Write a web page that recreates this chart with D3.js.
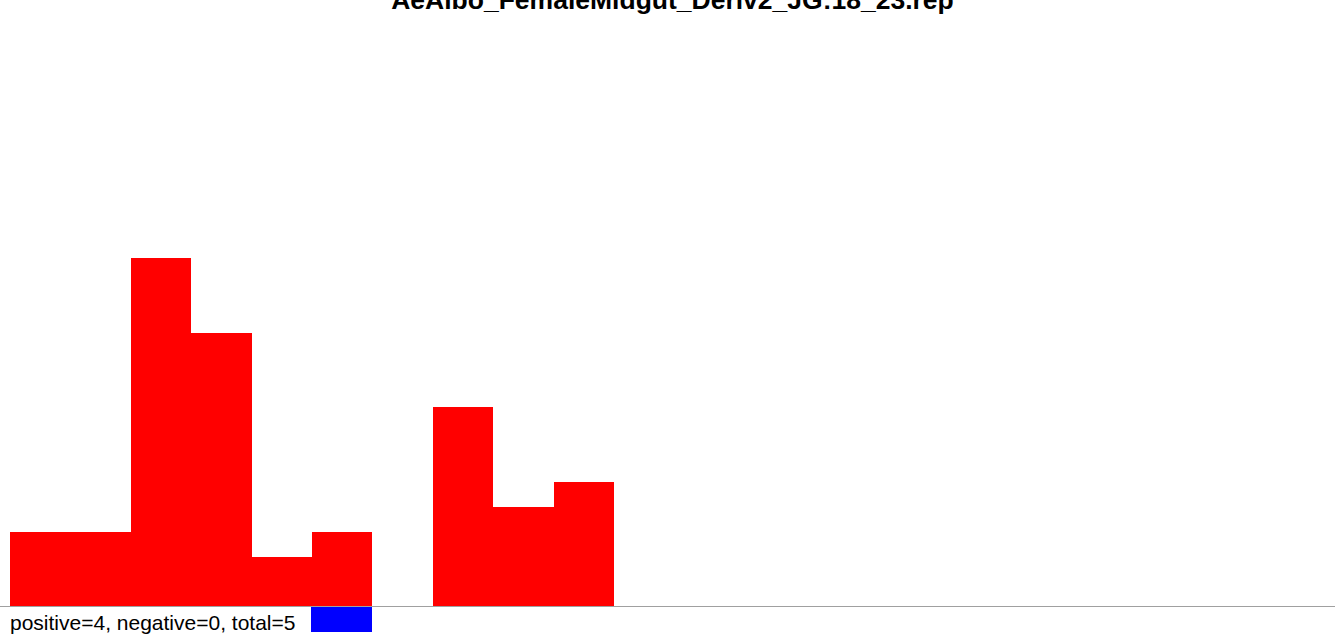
<!DOCTYPE html>
<html>
<head>
<meta charset="utf-8">
<script src="https://cdn.jsdelivr.net/npm/d3@7"></script>
<style>
  html, body { margin: 0; padding: 0; background: #fff; overflow: hidden; }
  svg { display: block; }
</style>
</head>
<body>
<svg id="chart" width="1335" height="636"></svg>
<script>
const title = "AeAlbo_FemaleMidgut_Deriv2_JG:18_23.rep";
const bins = d3.range(22);
const positiveValues = [3, 3, 14, 11, 2, 3, 0, 8, 4, 5, 0, 0, 0, 0, 0, 0, 0, 0, 0, 0, 0, 0];
const negativeValues = [0, 0, 0, 0, 0, 1, 0, 0, 0, 0, 0, 0, 0, 0, 0, 0, 0, 0, 0, 0, 0, 0];
const summary = "positive=4, negative=0, total=5";

const svg = d3.select("#chart");
const W = 1335;

const x = d3.scaleBand().domain(bins).range([10, 10 + 22 * 60.4]).padding(0);
const y = d3.scaleLinear().domain([-1, 0, 14]).range([631.5, 606.5, 258]);

svg.append("g").attr("shape-rendering", "crispEdges").selectAll("rect.pos")
  .data(bins.filter(i => positiveValues[i] > 0))
  .join("rect")
  .attr("x", i => Math.round(x(i)))
  .attr("width", i => Math.round(x(i) + x.bandwidth()) - Math.round(x(i)))
  .attr("y", i => Math.round(y(positiveValues[i])))
  .attr("height", i => Math.round(y(0)) - Math.round(y(positiveValues[i])))
  .attr("fill", "#ff0000");

svg.append("line")
  .attr("x1", 0).attr("x2", W)
  .attr("y1", y(0)).attr("y2", y(0))
  .attr("stroke", "#a0a0a0").attr("stroke-width", 1.2);

svg.append("g").attr("shape-rendering", "crispEdges").selectAll("rect.neg")
  .data(bins.filter(i => negativeValues[i] > 0))
  .join("rect")
  .attr("x", i => Math.round(x(i)) - 1)
  .attr("width", i => Math.round(x(i) + x.bandwidth()) - Math.round(x(i)) + 1)
  .attr("y", Math.round(y(0)))
  .attr("height", i => Math.round(y(-negativeValues[i])) - Math.round(y(0)))
  .attr("fill", "#0000ff");

svg.append("text")
  .attr("x", W / 2 + 5).attr("y", 9)
  .attr("text-anchor", "middle")
  .attr("font-family", "Liberation Sans, Arial, sans-serif")
  .attr("font-weight", "bold")
  .attr("font-size", 26.5)
  .attr("fill", "#000")
  .text(title);

svg.append("text")
  .attr("x", 10).attr("y", 630)
  .attr("font-family", "Liberation Sans, Arial, sans-serif")
  .attr("font-size", 21)
  .attr("fill", "#000")
  .text(summary);
</script>
</body>
</html>
